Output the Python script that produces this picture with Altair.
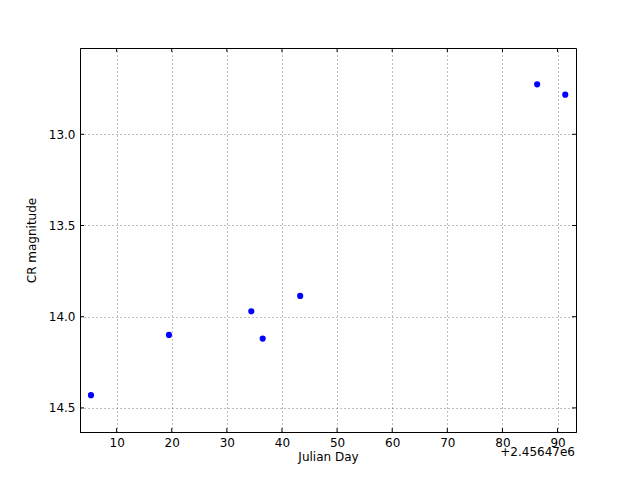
import altair as alt
import pandas as pd

# Julian Day offsets from 2456470
jd_offset = [5.34, 19.49, 34.43, 36.5, 43.3, 86.3, 91.4]
cr_mag = [14.43, 14.10, 13.97, 14.12, 13.886, 12.726, 12.783]

x_ticks = [10, 20, 30, 40, 50, 60, 70, 80, 90]
y_ticks = [13.0, 13.5, 14.0, 14.5]
offset_label = ["+2.45647e6"]

W, H = 496, 384
x_dom = [3.35, 93.35]
y_dom = [12.527, 14.632]

pts = pd.DataFrame({"jd": jd_offset, "mag": cr_mag})
xt = pd.DataFrame({"v": x_ticks})
yt = pd.DataFrame({"v": y_ticks})
off = pd.DataFrame({"t": offset_label})

xs = alt.Scale(domain=x_dom, nice=False, zero=False)
ys = alt.Scale(domain=y_dom, nice=False, zero=False, reverse=True)

font = "DejaVu Sans"

points = alt.Chart(pts).mark_circle(size=38, color="#0000ff", opacity=1).encode(
    x=alt.X("jd:Q", scale=xs, title="Julian Day",
            axis=alt.Axis(values=x_ticks, format="d", ticks=False, grid=True,
                          gridColor="black", gridDash=[1, 3], gridOpacity=0.5, gridWidth=1,
                          labelFontSize=12, labelFont=font, labelColor="black", labelPadding=5,
                          titleFontSize=12, titleFont=font, titleFontWeight="normal",
                          titleColor="black", titlePadding=3,
                          domainColor="black", labelFlush=False)),
    y=alt.Y("mag:Q", scale=ys, title="CR magnitude",
            axis=alt.Axis(values=y_ticks, format=".1f", ticks=False, grid=True,
                          gridColor="black", gridDash=[1, 3], gridOpacity=0.5, gridWidth=1,
                          labelFontSize=12, labelFont=font, labelColor="black", labelPadding=5,
                          titleFontSize=12, titleFont=font, titleFontWeight="normal",
                          titleColor="black", titlePadding=10,
                          domainColor="black", labelFlush=False)),
)

tick_style = dict(color="black", strokeWidth=1)
xb = alt.Chart(xt).mark_rule(**tick_style).encode(x=alt.X("v:Q", scale=xs), y=alt.value(H), y2=alt.value(H - 4))
xtp = alt.Chart(xt).mark_rule(**tick_style).encode(x=alt.X("v:Q", scale=xs), y=alt.value(0), y2=alt.value(4))
yl = alt.Chart(yt).mark_rule(**tick_style).encode(y=alt.Y("v:Q", scale=ys), x=alt.value(0), x2=alt.value(4))
yr = alt.Chart(yt).mark_rule(**tick_style).encode(y=alt.Y("v:Q", scale=ys), x=alt.value(W), x2=alt.value(W - 4))

offtext = alt.Chart(off).mark_text(align="right", baseline="middle", fontSize=12, font=font, color="black").encode(
    text="t:N", x=alt.value(W - 1), y=alt.value(H + 20))

chart = alt.layer(points, xb, xtp, yl, yr, offtext).properties(
    width=W, height=H,
    autosize=alt.AutoSizeParams(type="none"),
    padding={"left": 72, "top": 40, "right": 56, "bottom": 40},
    background="white",
).configure_view(stroke="black", strokeWidth=1)

chart.save("out.html", embed_options={"renderer": "svg", "actions": False})
